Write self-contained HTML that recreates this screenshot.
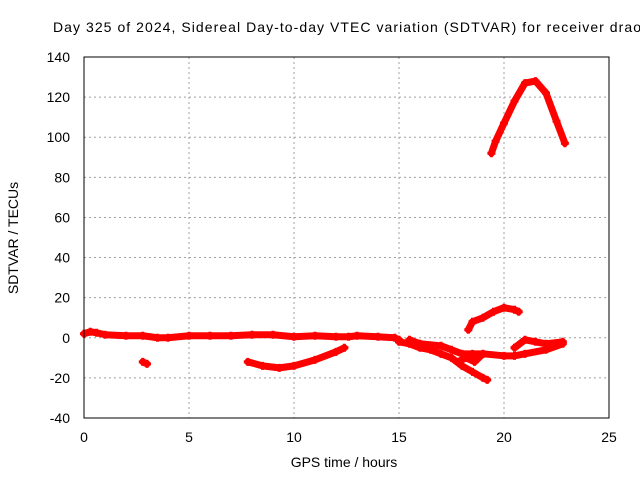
<!DOCTYPE html>
<html><head><meta charset="utf-8"><style>
body{margin:0;background:#fff;}
svg{display:block;font-family:"Liberation Sans",sans-serif;}
</style></head><body>
<svg id="chart" width="640" height="480" viewBox="0 0 640 480">
<text x="53" y="32" font-size="14" fill="#000" textLength="588" lengthAdjust="spacing">Day 325 of 2024, Sidereal Day-to-day VTEC variation (SDTVAR) for receiver drao</text>
<g id="grid"></g><g id="ticks"></g><g id="series"></g>
<rect x="84" y="57" width="525" height="361" fill="none" stroke="#000" stroke-width="1"/>
<text x="344" y="467" font-size="14" text-anchor="middle">GPS time / hours</text>
<text transform="translate(18,238) rotate(-90)" font-size="14" text-anchor="middle">SDTVAR / TECUs</text>
</svg>
<script>
const xTicks=[0,5,10,15,20,25];
const yTicks=[-40,-20,0,20,40,60,80,100,120,140];
const segA=[[0,2],[0.3,3],[0.6,2.5],[1,1.5],[2,1],[2.8,1],[3.5,0],[4,0],[5,1],[6,1],[7,1],[8,1.5],[9,1.5],[10,0.5],[11,1],[12,0.5],[12.6,0.5],[13,1],[14,0.5],[14.8,0],[15,-1]];
const segB=[[2.8,-12],[3.0,-13]];
const segC=[[7.8,-12],[8.5,-14],[9.3,-15],[10,-14],[11,-11],[12,-7],[12.4,-5]];
const segD=[[15,-2],[15.5,-3],[16,-5],[16.5,-6],[17,-8],[17.5,-10],[18,-14],[18.5,-17],[19,-20],[19.2,-21]];
const segE=[[15.5,-1],[16,-3],[17,-4],[17.5,-6],[18,-8],[18.5,-8],[19,-8],[20,-9],[20.5,-9],[21,-8],[22,-6],[22.8,-3]];
const segF=[[17.8,-12],[18.2,-10],[18.6,-12],[19,-8]];
const segG=[[20.5,-5],[21,-1],[21.5,-2],[22,-3],[22.8,-2]];
const segH=[[18.3,4],[18.5,8],[19,10],[19.5,13],[20,15],[20.5,14],[20.7,13]];
const segI=[[19.4,92],[19.6,98],[20,107],[20.5,118],[21,127],[21.5,128],[22,122],[22.5,108],[22.9,97]];
const segments=[segA,segB,segC,segD,segE,segF,segG,segH,segI];
const NS="http://www.w3.org/2000/svg";
const X=v=>84+v*(525/25), Y=v=>418-(v+40)*(361/180);
const g=document.getElementById('grid'),t=document.getElementById('ticks'),s=document.getElementById('series');
function mk(tag,a,p){const e=document.createElementNS(NS,tag);for(const k in a)e.setAttribute(k,a[k]);p.appendChild(e);return e;}
xTicks.forEach(v=>{
 const l=mk('line',{x1:X(v),x2:X(v),y1:57,y2:418,stroke:'#a0a0a0','stroke-dasharray':'2,3'},g);
 
 
 const tx=mk('text',{x:X(v),y:442,'font-size':14,'text-anchor':'middle'},t);tx.textContent=v;
 
 
});
yTicks.forEach(v=>{
 const l=mk('line',{x1:84,x2:609,y1:Y(v),y2:Y(v),stroke:'#a0a0a0','stroke-dasharray':'2,3'},g);
 
 
 const tx=mk('text',{x:70,y:Y(v)+5,'font-size':14,'text-anchor':'end'},t);tx.textContent=v;
 
 
});
segments.forEach(seg=>{
 const pl=mk('polyline',{points:seg.map(p=>X(p[0])+','+Y(p[1])).join(' '),fill:'none',stroke:'#f00','stroke-width':7,'stroke-linejoin':'round','stroke-linecap':'round'},s);
 
 
 seg.forEach(p=>{
  const m=mk('path',{d:`M${X(p[0])-4},${Y(p[1])}h8M${X(p[0])},${Y(p[1])-4}v8`,stroke:'#f00','stroke-width':3},s);
  
  
 });
});
</script>
</body></html>
